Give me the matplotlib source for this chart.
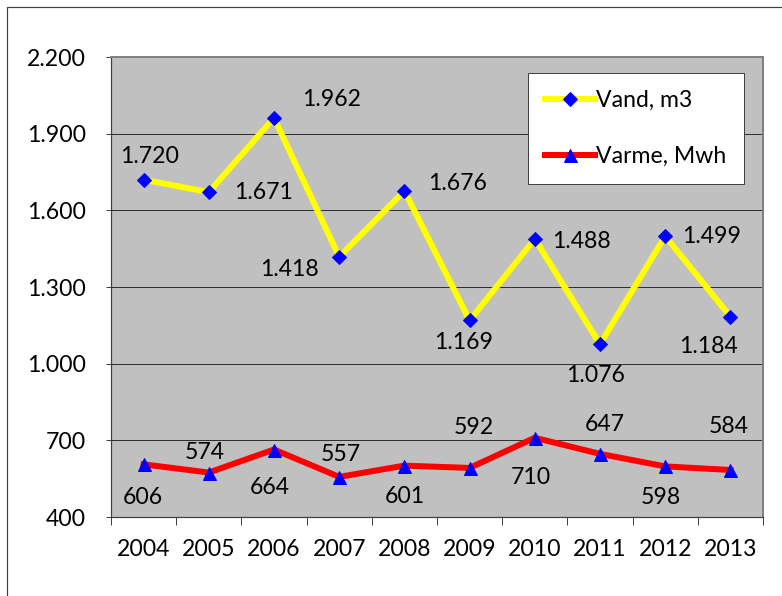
import matplotlib
matplotlib.use("Agg")
import matplotlib.pyplot as plt
from matplotlib.patches import Rectangle

years = ["2004", "2005", "2006", "2007", "2008", "2009", "2010", "2011", "2012", "2013"]
vand = [1720, 1671, 1962, 1418, 1676, 1169, 1488, 1076, 1499, 1184]
varme = [606, 574, 664, 557, 601, 592, 710, 647, 598, 584]
vand_labels = ["1.720", "1.671", "1.962", "1.418", "1.676", "1.169", "1.488", "1.076", "1.499", "1.184"]
varme_labels = ["606", "574", "664", "557", "601", "592", "710", "647", "598", "584"]
yticks = [400, 700, 1000, 1300, 1600, 1900, 2200]
ytick_labels = ["400", "700", "1.000", "1.300", "1.600", "1.900", "2.200"]

# label offsets in pixels (dpi=72 -> points == pixels)
vand_off = [(6, 23), (55, 0), (58, 18), (-50, -13), (53, 7), (-6, -22), (47, -3), (-4, -31), (46, 0), (-22, -30)]
varme_off = [(-1, -33), (-4, 20), (-4, -38), (2, 22), (0, -31), (4, 40), (-4, -40), (5, 29), (-4, -31), (-2, 43)]

plt.rcParams['font.family'] = ['Lato', 'DejaVu Sans']
FS = 23

fig = plt.figure(figsize=(782 / 72, 596 / 72), dpi=72)
fig.patch.set_facecolor("white")
fig.add_artist(Rectangle((7 / 782, -0.1), 2, 1 - 7 / 596 + 0.1, transform=fig.transFigure,
                         fill=False, edgecolor="#404040", linewidth=1.2))

ax = fig.add_axes([111 / 782, 1 - 517 / 596, 652 / 782, 460 / 596])
ax.set_facecolor("#C0C0C0")
x = [i + 0.5 for i in range(len(years))]

ax.plot(x, vand, color="#FFFF00", linewidth=6, marker="D", markersize=10,
        markerfacecolor="#0000FF", markeredgecolor="#0000FF", label="Vand, m3", zorder=3,
        solid_joinstyle="round")
ax.plot(x, varme, color="#FF0000", linewidth=6, marker="^", markersize=13,
        markerfacecolor="#0000FF", markeredgecolor="#0000FF", label="Varme, Mwh", zorder=3,
        solid_joinstyle="round")

for xi, v, lab, off in zip(x, vand, vand_labels, vand_off):
    ax.annotate(lab, (xi, v), xytext=off, textcoords="offset points",
                ha="center", va="center", fontsize=FS, color="black")
for xi, v, lab, off in zip(x, varme, varme_labels, varme_off):
    ax.annotate(lab, (xi, v), xytext=off, textcoords="offset points",
                ha="center", va="center", fontsize=FS, color="black")

ax.set_xlim(0, len(years))
ax.set_ylim(400, 2200)
ax.set_yticks(yticks)
ax.set_yticklabels(ytick_labels, fontsize=FS)
ax.set_xticks(x)
ax.set_xticklabels(years, fontsize=FS)
ax.set_xticks(range(len(years) + 1), minor=True)
ax.tick_params(axis="x", which="major", length=0, pad=22)
ax.tick_params(axis="x", which="minor", length=8, width=1, color="#404040")
ax.tick_params(axis="y", length=5, width=1, color="#404040", pad=20)

ax.yaxis.grid(True, color="#303030", linewidth=1)
ax.set_axisbelow(True)
for s in ["left", "bottom"]:
    ax.spines[s].set_color("#404040")
    ax.spines[s].set_linewidth(1.2)
for s in ["top", "right"]:
    ax.spines[s].set_color("#808080")
    ax.spines[s].set_linewidth(2)

leg = ax.legend(loc="upper right", bbox_to_anchor=((744 - 111) / 652, 1 - 16 / 460),
                fontsize=FS, frameon=True, fancybox=False, framealpha=1,
                edgecolor="#404040", handlelength=2.2, handletextpad=0.05,
                labelspacing=1.52, borderpad=0.75, borderaxespad=0)
leg.get_frame().set_linewidth(1)

fig.savefig("out.png", dpi=72)
